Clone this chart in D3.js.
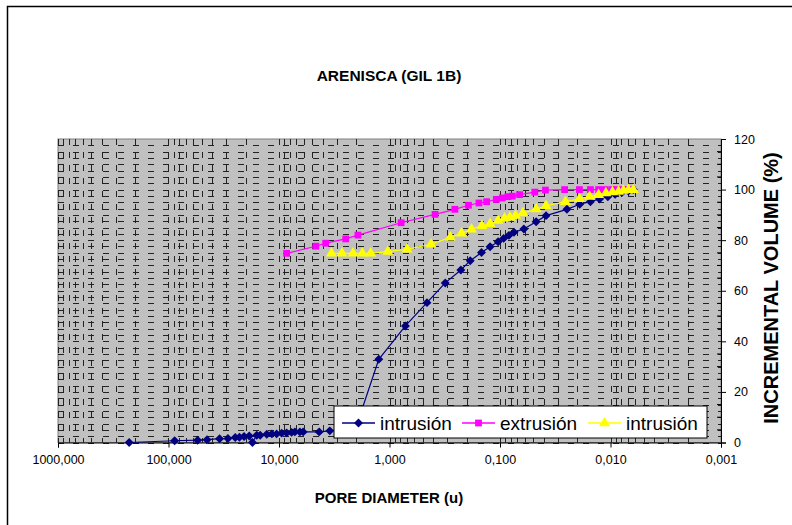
<!DOCTYPE html>
<html>
<head>
<meta charset="utf-8">
<script src="https://cdn.jsdelivr.net/npm/d3@7"></script>
<style>
  body { margin: 0; background: #fff; }
  text { font-family: Arial, "Liberation Sans", sans-serif; }
</style>
</head>
<body>
<div id="chart"></div>
<script>
// pore diameter (u) and incremental volume (%)
const diamIntr = [227, 88, 54.5, 44.8, 34.5, 29, 24.9, 22.8, 20.7, 18.6, 17.4, 15.9, 14.8, 12.9, 11.6, 10.5,
  9.46, 8.53, 7.69, 7.18, 6.47, 6.04, 4.33, 3.47, 2.02, 1.25, 0.718, 0.458, 0.313, 0.226, 0.186, 0.147,
  0.123, 0.104, 0.0927, 0.083, 0.0748, 0.0608, 0.0471, 0.0383, 0.0248, 0.019, 0.0152, 0.01256, 0.01057,
  0.00908, 0.0079, 0.00689, 0.00621]
const volIntr = [0, 0.7, 0.9, 1.1, 1.5, 1.6, 2.0, 2.1, 2.4, 2.6, 0, 2.9, 2.9, 3.3, 3.4, 3.4,
  3.7, 3.8, 4.0, 4.2, 4.2, 4.2, 4.2, 4.6, 5.8, 32.9, 46.1, 55.3, 63.1, 68.2, 71.9, 75.1,
  77.4, 79.4, 80.7, 81.9, 83.1, 84.4, 87.3, 89.7, 92.2, 94.2, 95.2, 96.3, 97.2,
  98.1, 98.8, 99.4, 100]

const diamExtr = [8.53, 4.64, 3.78, 2.49, 1.93, 0.785, 0.387, 0.256, 0.193, 0.155, 0.132, 0.108, 0.0953,
  0.0847, 0.0774, 0.0665, 0.0484, 0.0388, 0.026, 0.0191, 0.0152, 0.0128, 0.0112, 0.00973, 0.00859,
  0.00764, 0.00689, 0.00634]
const volExtr = [74.8, 77.6, 78.8, 80.5, 82.0, 86.9, 90.2, 92.2, 93.8, 94.7, 95.2, 96.1, 96.7,
  97.2, 97.4, 98.0, 99.0, 99.8, 100, 100, 100, 100, 100, 100, 100,
  100, 100, 100]

const diamIntr2 = [3.35, 2.69, 2.14, 1.76, 1.48, 1.035, 0.693, 0.421, 0.282, 0.223, 0.181, 0.146, 0.123,
  0.104, 0.0908, 0.0813, 0.0722, 0.062, 0.047, 0.0383, 0.0256, 0.0191, 0.01545, 0.01282, 0.01102,
  0.0096, 0.00847, 0.00764, 0.00689, 0.00621]
const volIntr2 = [74.8, 74.8, 74.8, 74.8, 74.8, 75.5, 76.4, 78.4, 81.1, 82.7, 84.3, 85.7, 86.5,
  87.7, 88.6, 89.0, 89.7, 90.7, 92.3, 93.6, 95.2, 96.3, 97.2, 97.9, 98.6,
  99.0, 99.2, 99.6, 99.9, 99.9]

const seriesNames = ["intrusión", "extrusión", "intrusión"]
const xTicks = [1000, 100, 10, 1, 0.1, 0.01, 0.001]
const xTickLabels = ["1000,000", "100,000", "10,000", "1,000", "0,100", "0,010", "0,001"]
const yTicks = [0, 20, 40, 60, 80, 100, 120]

const W = 792, H = 525
const margin = {top: 139, right: 71, bottom: 82.5, left: 58},
    width = W - margin.left - margin.right,
    height = H - margin.top - margin.bottom;

const svg = d3.select("#chart")
  .append("svg")
  .attr("width", W)
  .attr("height", H)

// chart area frame
svg.append("rect")
  .attr("x", 7.5).attr("y", 6.5)
  .attr("width", 820).attr("height", 540)
  .attr("fill", "#fff")
  .attr("stroke", "#000")
  .attr("stroke-width", 1.5)

const g = svg.append("g")
  .attr("transform", `translate(${margin.left},${margin.top})`)

const x = d3.scaleLog().domain([1000, 0.001]).range([0, width])
const y = d3.scaleLinear().domain([0, 120]).range([height, 0])

// plot area
g.append("rect")
  .attr("width", width).attr("height", height)
  .attr("fill", "#c0c0c0")
  .attr("stroke", "#808080")

// dashed grid
const minorX = []
for (let e = -3; e < 3; ++e)
  for (let k = 1; k < 10; ++k) minorX.push(k * Math.pow(10, e))
minorX.push(1000)

g.append("g").selectAll("line")
  .data(minorX)
  .join("line")
    .attr("x1", d => Math.round(x(d)) + 0.5)
    .attr("x2", d => Math.round(x(d)) + 0.5)
    .attr("y1", 0).attr("y2", height)
    .attr("stroke", "#222")
    .attr("stroke-dasharray", "6,7")

g.append("g").selectAll("line")
  .data(d3.range(0, 120, 2.5))
  .join("line")
    .attr("x1", 0).attr("x2", width)
    .attr("y1", d => Math.round(y(d)) + 0.5)
    .attr("y2", d => Math.round(y(d)) + 0.5)
    .attr("stroke", "#222")
    .attr("stroke-dasharray", "6,9")

// axes
const xAxis = g.append("g")
  .attr("transform", `translate(0,${height})`)
  .call(d3.axisBottom(x).tickValues(xTicks).tickFormat((d, i) => xTickLabels[i]).tickSize(5).tickPadding(8))
xAxis.select(".domain").attr("stroke", "#000")
xAxis.selectAll("text").style("font-size", "12.5px").attr("fill", "#000")

const yAxis = g.append("g")
  .attr("transform", `translate(${width},0)`)
  .call(d3.axisRight(y).tickValues(yTicks).tickSize(5).tickPadding(8))
yAxis.select(".domain").attr("stroke", "#000")
yAxis.selectAll("text").style("font-size", "12.5px").attr("fill", "#000")

// y minor ticks, inside
g.append("g").selectAll("line")
  .data(d3.range(5, 120, 5).filter(d => d % 20 !== 0))
  .join("line")
    .attr("x1", width - 4).attr("x2", width)
    .attr("y1", d => y(d)).attr("y2", d => y(d))
    .attr("stroke", "#000")

// series (diamond = square turned 45 degrees, like Excel's)
const series = [
  {name: seriesNames[0], xs: diamIntr, ys: volIntr, color: "#000080", symbol: d3.symbolSquare, size: 40, rot: 45},
  {name: seriesNames[1], xs: diamExtr, ys: volExtr, color: "#ff00ff", symbol: d3.symbolSquare, size: 46, rot: 0},
  {name: seriesNames[2], xs: diamIntr2, ys: volIntr2, color: "#ffff00", symbol: d3.symbolTriangle, size: 52, rot: 0}
]

const line = d3.line().x(d => x(d[0])).y(d => y(d[1]))

series.forEach(s => {
  const pts = s.xs.map((d, i) => [d, s.ys[i]])
  g.append("path")
    .datum(pts)
    .attr("fill", "none")
    .attr("stroke", s.color)
    .attr("stroke-width", 1.2)
    .attr("d", line)
  g.append("g").selectAll("path")
    .data(pts)
    .join("path")
      .attr("transform", d => `translate(${x(d[0])},${y(d[1])}) rotate(${s.rot})`)
      .attr("d", d3.symbol().type(s.symbol).size(s.size))
      .attr("fill", s.color)
})

// legend
const legend = svg.append("g").attr("transform", "translate(334,406)")
legend.append("rect")
  .attr("width", 373).attr("height", 32)
  .attr("fill", "#fff")
  .attr("stroke", "#000")
const legendX = [8, 128, 254]
series.forEach((s, i) => {
  const lg = legend.append("g").attr("transform", `translate(${legendX[i]},17)`)
  lg.append("line").attr("x1", 0).attr("x2", 33).attr("stroke", s.color).attr("stroke-width", 1.5)
  lg.append("path").attr("transform", `translate(16.5,0) rotate(${s.rot})`)
    .attr("d", d3.symbol().type(s.symbol).size(s.size)).attr("fill", s.color)
  lg.append("text").attr("x", 38).attr("y", 6.5)
    .style("font-size", "19px").text(s.name)
})

// titles
svg.append("text")
  .attr("x", 389).attr("y", 81)
  .attr("text-anchor", "middle")
  .style("font-size", "15.5px").style("font-weight", "bold")
  .text("ARENISCA (GIL 1B)")

svg.append("text")
  .attr("x", 389).attr("y", 503)
  .attr("text-anchor", "middle")
  .style("font-size", "15px").style("font-weight", "bold")
  .text("PORE DIAMETER (u)")

svg.append("text")
  .attr("transform", "translate(778,288) rotate(-90)")
  .attr("text-anchor", "middle")
  .style("font-size", "20px").style("font-weight", "bold")
  .text("INCREMENTAL VOLUME (%)")
</script>
</body>
</html>
